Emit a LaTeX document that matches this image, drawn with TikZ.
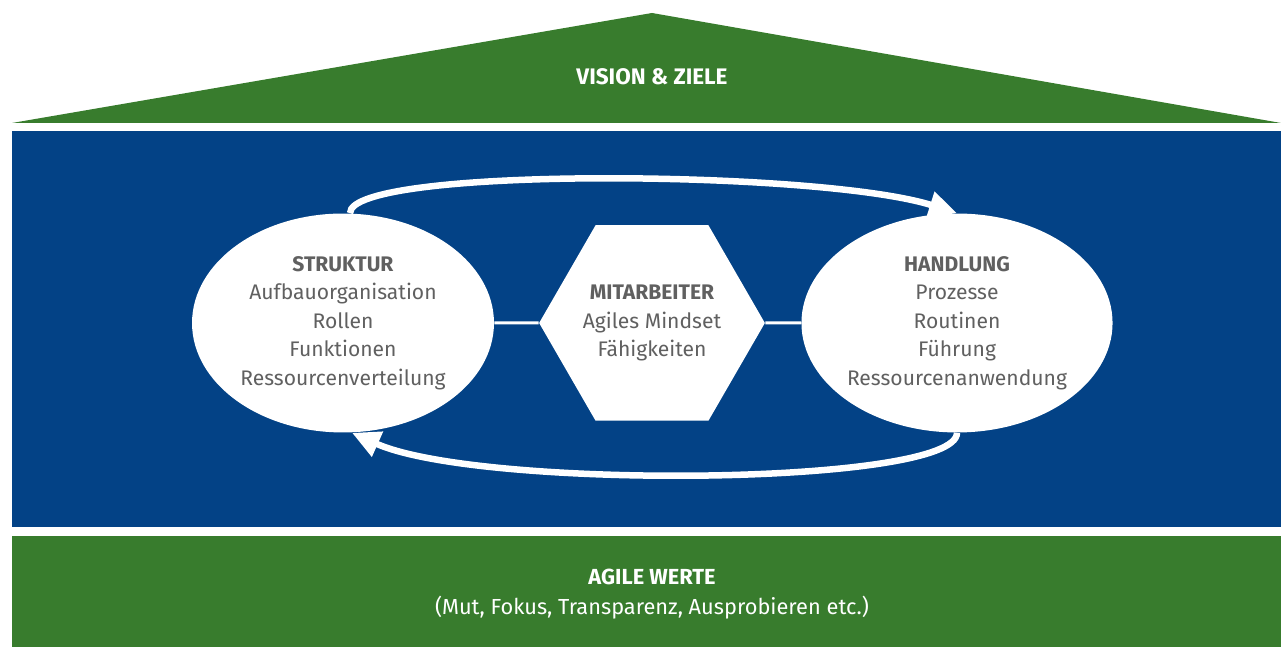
\documentclass[tikz,border=0pt]{standalone}
\usepackage{fontspec}
\setmainfont{Fira Sans}
\usetikzlibrary{arrows.meta, shapes.geometric}
\definecolor{hausgruen}{HTML}{387C2D}
\definecolor{hausblau}{HTML}{034286}
\definecolor{textgrau}{HTML}{606060}

\begin{document}
\begin{tikzpicture}[x=0.02cm, y=0.02cm,
		every node/.style={font=\fontsize{12}{16.2}\selectfont, align=center},
		feld/.style={fill=white, draw=none, inner sep=0pt, text=textgrau},
		kreis/.style={line width=0.13cm, white, -{Triangle[length=0.56cm, width=0.52cm]}},
		link/.style={line width=0.06cm, white}]
	\useasboundingbox (0,0) rectangle (1281,648);

	% Dach, Haus und Fundament
	\fill[hausgruen] (12,525) -- (652,635) -- (1281,525) -- cycle;
	\fill[hausblau] (12,121) rectangle (1281,517);
	\fill[hausgruen] (12,1) rectangle (1281,112);

	\node[text=white, font=\fontsize{12.8}{16}\selectfont] (vision) at (652,571) {\textbf{VISION \& ZIELE}};
	\node[text=white, font=\fontsize{12.4}{17}\selectfont] (werte) at (652,54) {\textbf{AGILE WERTE}\\(Mut, Fokus, Transparenz, Ausprobieren etc.)};

	% Struktur, Mitarbeiter, Handlung
	\node[feld, ellipse, minimum width=6.04cm, minimum height=4.38cm] (struktur) at (343,325)
		{\textbf{STRUKTUR}\\Aufbauorganisation\\Rollen\\Funktionen\\Ressourcenverteilung};
	\node[feld, regular polygon, regular polygon sides=6, minimum size=4.48cm] (mitarbeiter) at (652,325)
		{\textbf{MITARBEITER}\\Agiles Mindset\\Fähigkeiten};
	\node[feld, ellipse, minimum width=6.04cm, minimum height=4.38cm] (handlung) at (957,325)
		{\textbf{HANDLUNG}\\Prozesse\\Routinen\\Führung\\Ressourcenanwendung};

	\draw[link] (struktur.east) -- (mitarbeiter.west);
	\draw[link] (mitarbeiter.east) -- (handlung.west);

	\draw[kreis] ([xshift=0.14cm]struktur.north) .. controls (350,482) and (820,478) .. (handlung.north);
	\draw[kreis] (handlung.south) .. controls (957,162) and (480,158) .. ([xshift=0.18cm]struktur.south);
\end{tikzpicture}
\end{document}
